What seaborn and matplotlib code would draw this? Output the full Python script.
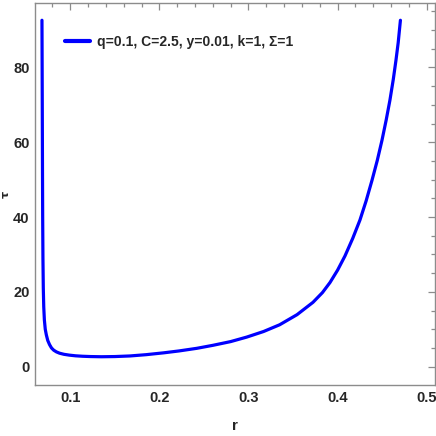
import matplotlib
matplotlib.use("Agg")
import matplotlib.pyplot as plt
import seaborn as sns
import pandas as pd
from matplotlib.ticker import MultipleLocator

r_vals = [0.0683, 0.0685, 0.0687, 0.0689, 0.0691, 0.0694, 0.0698, 0.0703, 0.0710,
          0.0720, 0.0732, 0.0748, 0.0768, 0.0790, 0.0815, 0.0845, 0.0880, 0.0930,
          0.0990, 0.1060, 0.1140, 0.1230, 0.1350, 0.1500, 0.1670, 0.1850, 0.2050,
          0.2220, 0.2420, 0.2600, 0.2800, 0.2980, 0.3170, 0.3350, 0.3545, 0.3724,
          0.3830, 0.3915, 0.4000, 0.4083, 0.4170, 0.4251, 0.4320, 0.4386, 0.4445,
          0.4498, 0.4545, 0.4587, 0.4625, 0.4655, 0.4680, 0.4705]
tau_vals = [92.6, 80.0, 66.0, 52.0, 40.0, 29.0, 21.0, 16.0, 12.5,
            10.0, 8.5, 7.0, 5.9, 5.0, 4.4, 3.95, 3.6, 3.3,
            3.08, 2.9, 2.78, 2.7, 2.65, 2.7, 2.86, 3.2, 3.7,
            4.2, 4.9, 5.7, 6.7, 7.9, 9.4, 11.2, 13.9, 17.2,
            19.8, 22.5, 25.8, 29.6, 34.3, 39.2, 44.3, 49.8, 55.1,
            60.5, 65.9, 71.2, 76.8, 81.9, 86.6, 92.6]
legend_label = "q=0.1, C=2.5, y=0.01, k=1, Σ=1"
x_ticks = [0.1, 0.2, 0.3, 0.4, 0.5]
y_ticks = [0, 20, 40, 60, 80]

df = pd.DataFrame({"r": r_vals, "tau": tau_vals})

sns.set_style("white")
font_list = ["Liberation Sans Narrow", "Liberation Sans", "DejaVu Sans"]
plt.rcParams["font.family"] = font_list

fig = plt.figure(figsize=(4.36, 4.36), dpi=100)
ax = fig.add_axes([0.0803, 0.117, 0.9174, 0.876])

sns.lineplot(data=df, x="r", y="tau", sort=False, estimator=None,
             color="#0000ff", linewidth=2.3, label=legend_label, ax=ax)

ax.set_xlim(0.0605, 0.5093)
ax.set_ylim(-4.9, 97.2)
ax.set_xticks(x_ticks)
ax.set_yticks(y_ticks)
ax.set_xticklabels([f"{v:g}" for v in x_ticks])
ax.set_yticklabels([str(v) for v in y_ticks])
ax.xaxis.set_minor_locator(MultipleLocator(0.02))
ax.yaxis.set_minor_locator(MultipleLocator(5))

frame_c = "#8c8c8c"
for s in ax.spines.values():
    s.set_color(frame_c)
    s.set_linewidth(1.0)

ax.tick_params(which="both", direction="in", top=True, right=True,
               color=frame_c, width=0.9)
ax.tick_params(which="major", length=5, labelsize=10.5, pad=4)
ax.tick_params(which="minor", length=3)
for lab in ax.get_xticklabels() + ax.get_yticklabels():
    lab.set_fontweight("bold")

ax.set_xlabel("r", fontsize=11, fontweight="bold")
ax.xaxis.set_label_coords(0.5, -0.09)
ax.set_ylabel("τ", fontsize=8, fontweight="bold", family=["DejaVu Sans"],
              va="center")
ax.yaxis.set_label_coords(-0.072, 0.5)

leg = ax.legend(loc="center left", bbox_to_anchor=(0.075, 0.898), frameon=False,
                prop={"family": font_list, "weight": "bold", "size": 10},
                handlelength=1.8, handletextpad=0.5, borderpad=0,
                borderaxespad=0)
for line in leg.get_lines():
    line.set_linewidth(3)

fig.savefig("out.png", dpi=100)
